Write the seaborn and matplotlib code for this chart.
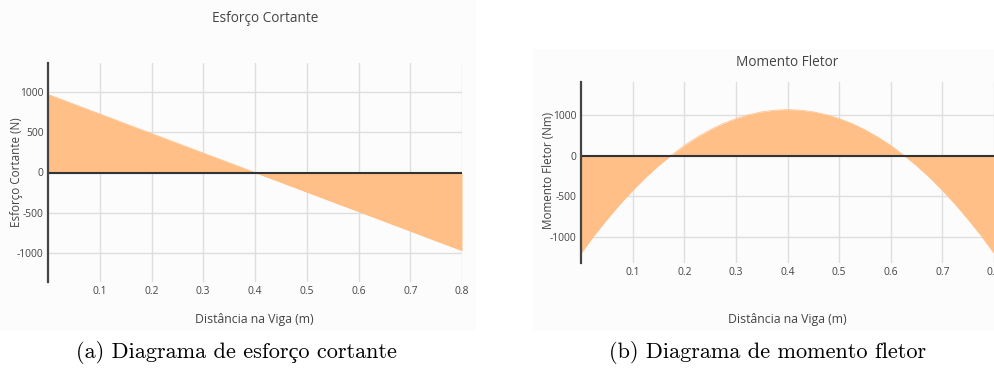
"""Diagramas de esforço cortante e momento fletor (viga)."""
import numpy as np
import pandas as pd
import matplotlib
matplotlib.use("Agg")
import matplotlib.pyplot as plt
import seaborn as sns

# posições ao longo da viga (m)
x_cortante = [0.0, 0.1, 0.2, 0.3, 0.4, 0.5, 0.6, 0.7, 0.8]
v_cortante = [967, 725, 483, 242, 0, -242, -483, -725, -967]

x_momento = [0.0, 0.025, 0.05, 0.075, 0.1, 0.125, 0.15, 0.175, 0.2,
             0.225, 0.25, 0.275, 0.3, 0.325, 0.35, 0.375, 0.4,
             0.425, 0.45, 0.475, 0.5, 0.525, 0.55, 0.575, 0.6,
             0.625, 0.65, 0.675, 0.7, 0.725, 0.75, 0.775, 0.8]
m_fletor = [-1200, -983, -785, -597, -425, -265, -121, 9, 128,
            231, 321, 398, 459, 508, 542, 563, 570,
            563, 542, 508, 459, 398, 321, 231, 128,
            9, -121, -265, -425, -597, -785, -983, -1200]

x_ticks = [0.1, 0.2, 0.3, 0.4, 0.5, 0.6, 0.7, 0.8]
x_ticklabels = ["0.1", "0.2", "0.3", "0.4", "0.5", "0.6", "0.7", "0.8"]
yticks_cortante = [-1000, -500, 0, 500, 1000]
ylabels_cortante = ["-1000", "-500", "0", "500", "1000"]
yticks_momento = [-1000, -500, 0, 500]
ylabels_momento = ["-1000", "-500", "0", "1000"]

FILL = "#ffbf86"
TXT = "#444444"
GRID = "#dedede"

sns.set_style("white")
plt.rcParams["font.family"] = ["Open Sans", "DejaVu Sans"]

W, H = 994, 368
fig = plt.figure(figsize=(W / 100, H / 100), dpi=100)


def px_axes(x0, y0, x1, y1):
    return fig.add_axes([x0 / W, 1 - y1 / H, (x1 - x0) / W, (y1 - y0) / H])


# fundos levemente cinza (papel do plotly)
for (x0, y0, x1, y1) in [(0, 0, 476, 330), (533, 49, 994, 330)]:
    bg = px_axes(x0, y0, x1, y1)
    bg.set_facecolor("#fcfcfc")
    bg.set_xticks([])
    bg.set_yticks([])
    for s in bg.spines.values():
        s.set_visible(False)
    bg.set_zorder(-5)


def draw(ax, xs, ys, ylim, yticks, ylabels):
    df = pd.DataFrame({"x": xs, "y": ys})
    ax.set_facecolor("none")
    ax.fill_between(df["x"], df["y"], 0, color=FILL, linewidth=0, zorder=2)
    sns.lineplot(data=df, x="x", y="y", ax=ax, color=FILL, linewidth=0.5, zorder=2)
    ax.set_xlim(0, 0.8)
    ax.set_ylim(*ylim)
    ax.set_xticks(x_ticks)
    ax.set_xticklabels(x_ticklabels)
    ax.set_yticks(yticks)
    ax.set_yticklabels(ylabels)
    ax.tick_params(length=0, labelsize=7.4, colors=TXT, pad=3)
    ax.grid(True, color=GRID, linewidth=1.0, zorder=0)
    ax.axhline(0, color="#333333", linewidth=1.5, zorder=3)
    for s in ["top", "right", "bottom"]:
        ax.spines[s].set_visible(False)
    ax.spines["left"].set_color("#444444")
    ax.spines["left"].set_linewidth(1.6)
    ax.spines["left"].set_zorder(4)
    ax.set_xlabel("")
    ax.set_ylabel("")


ax1 = px_axes(48, 63, 462, 282)
draw(ax1, x_cortante, v_cortante, (-1355, 1355), yticks_cortante, ylabels_cortante)

ax2 = px_axes(581, 82, 994, 263)
draw(ax2, x_momento, m_fletor, (-1320, 910), yticks_momento, ylabels_momento)


def ftext(x, y, s, **kw):
    fig.text(x / W, 1 - y / H, s, ha="center", va="center", **kw)


ftext(265, 18, "Esforço Cortante", fontsize=9.8, color=TXT)
ftext(787, 62, "Momento Fletor", fontsize=9.8, color=TXT)
ftext(254, 319, "Distância na Viga (m)", fontsize=8.8, color=TXT)
ftext(787, 319, "Distância na Viga (m)", fontsize=8.8, color=TXT)
ftext(17, 172, "Esforço Cortante (N)", fontsize=8.4, color=TXT, rotation=90)
ftext(548, 170, "Momento Fletor (Nm)", fontsize=8.4, color=TXT, rotation=90)

cap_font = ["cmr10", "Liberation Serif"]
ftext(236, 352, "(a) Diagrama de esforço cortante", fontsize=16, color="black",
      family=cap_font)
ftext(768, 352, "(b) Diagrama de momento fletor", fontsize=16, color="black",
      family=cap_font)

fig.savefig("out.png", dpi=100)
plt.close(fig)
